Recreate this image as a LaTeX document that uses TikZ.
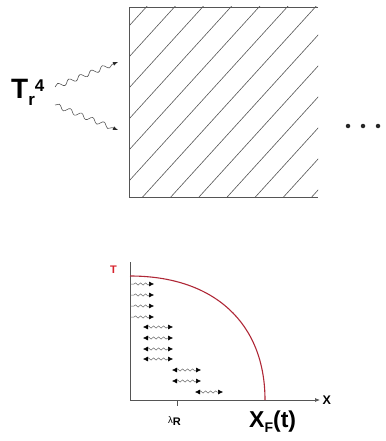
\documentclass[tikz,border=0pt]{standalone}
\usepackage{fontspec}
\setmainfont{Liberation Sans}
\usetikzlibrary{arrows.meta,decorations.pathmorphing}
\definecolor{linegray}{HTML}{555555}
\definecolor{curvered}{RGB}{175,40,55}
\definecolor{labelred}{RGB}{215,35,45}
\tikzset{
  border/.style={draw=linegray, line width=0.8pt},
  hatchline/.style={draw=linegray, line width=0.6pt},
  bigwave/.style={draw=linegray, line width=0.6pt, decorate,
    decoration={snake, amplitude=2.3pt, segment length=12pt, post length=4pt},
    -{Latex[length=5pt,width=4pt,color=black!85]}},
  smallwave/.style={draw=black!60, line width=0.5pt, decorate,
    decoration={snake, amplitude=1.1pt, segment length=5pt, pre length=4pt, post length=4pt}},
  oneway/.style={smallwave, -{Latex[length=5pt,width=5pt,color=black]}},
  twoway/.style={smallwave, {Latex[length=5pt,width=5pt,color=black]}-{Latex[length=5pt,width=5pt,color=black]}},
  axisline/.style={draw=linegray, line width=0.7pt},
  txt/.style={inner sep=0pt, anchor=base west},
  dotmark/.style={circle, fill=black!85, inner sep=0pt, minimum size=4.5pt},
}
\begin{document}
\begin{tikzpicture}[x=1pt,y=-1pt]
\useasboundingbox (0,0) rectangle (385,441);
% ---------- slab ----------
\coordinate (tl) at (129,7);
\coordinate (bl) at (129,197);
\coordinate (tr) at (318,7);
\coordinate (br) at (318,197);
\begin{scope}
  \clip (tl) rectangle (br);
  \foreach \c in {26,57,...,429} {
    \draw[hatchline] (129,\c) -- ++(250,-275);
  }
\end{scope}
\draw[border] (tr) -- (tl) -- (bl) -- (br);
% ---------- T_r^4 ----------
\node[txt] (tr4) at (11,99) {\fontsize{28}{28}\selectfont\bfseries T\raisebox{-7pt}{\fontsize{17}{17}\selectfont r}\raisebox{7pt}{\fontsize{17}{17}\selectfont 4}};
\coordinate (w1a) at (55,87);
\coordinate (w1b) at (118,62);
\coordinate (w2a) at (55,105);
\coordinate (w2b) at (118,130);
\draw[bigwave] (w1a) -- (w1b);
\draw[bigwave] (w2a) -- (w2b);
% ---------- dots ----------
\node[dotmark] (d1) at (348,126) {};
\node[dotmark] (d2) at (363,126) {};
\node[dotmark] (d3) at (378,126) {};
% ---------- graph ----------
\coordinate (O) at (130,400);
\coordinate (ytop) at (130,262);
\coordinate (xend) at (320,400);
\draw[axisline] (ytop) -- (O);
\draw[axisline, -{Latex[length=5pt,width=4pt]}] (O) -- (xend);
\coordinate (tick) at (177,400);
\coordinate (tickb) at (177,406);
\draw[axisline] (tick) -- (tickb);
\coordinate (cs) at (130,276);
\coordinate (ce) at (265,400);
\draw[curvered, line width=1.1pt] (cs) .. controls (214,276) and (265,323) .. (ce);
% labels
\node[text=labelred, font=\fontsize{11}{11}\selectfont\bfseries, inner sep=0pt] (tlab) at (113.5,270) {T};
\node[font=\fontsize{12.5}{12.5}\selectfont\bfseries, inner sep=0pt, anchor=west] (xlab) at (322.5,400) {X};
\node[txt] (lam) at (168,423) {\fontsize{9.5}{10}\selectfont λ\raisebox{-2.5pt}{\fontsize{11}{11}\selectfont\bfseries R}};
\node[txt] (xf) at (249,427) {\fontsize{23}{23}\selectfont\bfseries X\raisebox{-5pt}{\fontsize{14}{14}\selectfont F}(t)};
% ---------- photon arrows ----------
\foreach \i/\y in {1/284,2/295,3/306,4/317} {
  \coordinate (a\i) at (130,\y);
  \coordinate (b\i) at (154,\y);
  \draw[oneway] (a\i) -- (b\i);
}
\foreach \i/\xa/\xb/\y in {5/143/173/327,6/143/173/338,7/143/173/349,8/143/173/359,
                          9/172/201/370,10/172/201/381,11/195/223/392} {
  \coordinate (a\i) at (\xa,\y);
  \coordinate (b\i) at (\xb,\y);
  \draw[twoway] (a\i) -- (b\i);
}
\end{tikzpicture}
\end{document}
